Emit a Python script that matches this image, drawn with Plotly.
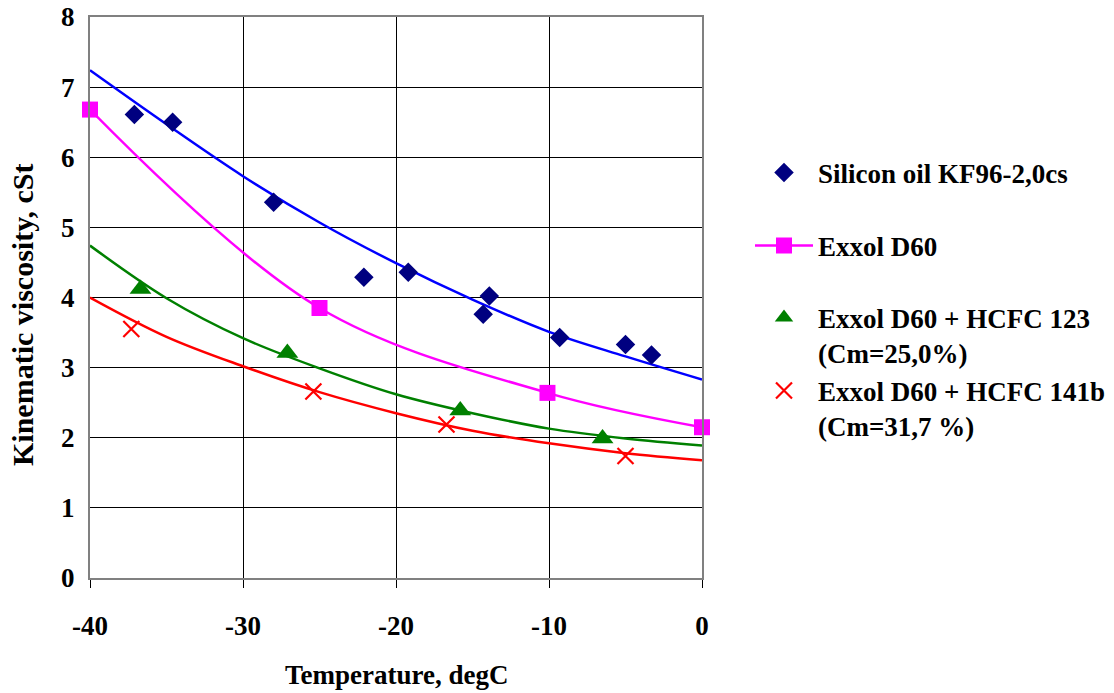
import plotly.graph_objects as go

# Measured viscosity points (temperature in degC, viscosity in cSt)
silicon_t = [-37.1, -34.6, -28.0, -22.1, -19.2, -14.3, -13.9, -9.3, -5.0, -3.3]
silicon_v = [6.61, 6.50, 5.36, 4.29, 4.36, 3.76, 4.02, 3.43, 3.33, 3.18]

d60_t = [-40.0, -25.0, -10.1, 0.0]
d60_v = [6.68, 3.85, 2.64, 2.15]

hcfc123_t = [-36.7, -27.1, -15.8, -6.5]
hcfc123_v = [4.12, 3.21, 2.39, 1.99]

hcfc141b_t = [-37.3, -25.4, -16.7, -5.0]
hcfc141b_v = [3.55, 2.66, 2.19, 1.74]

# Trend curves sampled every 5 degC
trend_t = [-40, -35, -30, -25, -20, -15, -10, -5, 0]
silicon_trend = [7.24, 6.47, 5.73, 5.07, 4.49, 3.97, 3.51, 3.16, 2.83]
hcfc123_trend = [4.74, 3.99, 3.42, 2.99, 2.62, 2.35, 2.13, 1.99, 1.89]
hcfc141b_trend = [4.00, 3.44, 3.02, 2.65, 2.35, 2.10, 1.92, 1.78, 1.68]

x_ticks = [-40, -30, -20, -10, 0]
y_ticks = [0, 1, 2, 3, 4, 5, 6, 7, 8]

FONT = "Liberation Serif"

fig = go.Figure()

# Trend lines
for ys, col in ((silicon_trend, "#0000FF"), (hcfc123_trend, "#008000"), (hcfc141b_trend, "#FF0000")):
    fig.add_trace(go.Scatter(x=trend_t, y=ys, mode="lines",
                             line=dict(color=col, width=2.5, shape="spline", smoothing=1.0),
                             showlegend=False, hoverinfo="skip"))

# Data series
fig.add_trace(go.Scatter(x=silicon_t, y=silicon_v, mode="markers", name="Silicon oil KF96-2,0cs",
                         marker=dict(symbol="diamond", size=15, color="#000080"),
                         cliponaxis=False, legend="legend"))
fig.add_trace(go.Scatter(x=d60_t, y=d60_v, mode="lines+markers", name="Exxol D60",
                         line=dict(color="#FF00FF", width=2.5, shape="spline"),
                         marker=dict(symbol="square", size=16, color="#FF00FF"),
                         cliponaxis=False, legend="legend2"))
fig.add_trace(go.Scatter(x=hcfc123_t, y=hcfc123_v, mode="markers", name="Exxol D60 + HCFC 123<br>(Cm=25,0%)",
                         marker=dict(symbol="triangle-up", size=19, color="#008000"),
                         cliponaxis=False, legend="legend3"))
fig.add_trace(go.Scatter(x=hcfc141b_t, y=hcfc141b_v, mode="markers", name="Exxol D60 + HCFC 141b<br>(Cm=31,7 %)",
                         marker=dict(symbol="x-thin", size=16, line=dict(color="#FF0000", width=2.2)),
                         cliponaxis=False, legend="legend4"))

legend_font = dict(family=FONT, size=27, color="black", weight="bold")
leg_common = dict(font=legend_font, bgcolor="rgba(0,0,0,0)", borderwidth=0,
                  xanchor="left", yanchor="middle", valign="top", x=(750 - 90) / 612,
                  itemwidth=58, itemsizing="trace")

bold_tick = dict(family=FONT, size=27, color="black", weight="bold")

fig.update_layout(
    width=1114, height=693,
    margin=dict(l=90, r=412, t=17, b=115, autoexpand=False),
    paper_bgcolor="white", plot_bgcolor="white",
    font=dict(family=FONT, color="black"),
    legend=dict(leg_common, y=(578 - 173) / 561),
    legend2=dict(leg_common, y=(578 - 246) / 561),
    legend3=dict(leg_common, y=(578 - 335.5) / 561),
    legend4=dict(leg_common, y=(578 - 408.5) / 561),
    xaxis=dict(range=[-40, 0], tickvals=x_ticks, ticktext=[str(v) for v in x_ticks],
               showgrid=True, gridcolor="black", gridwidth=1, zeroline=False,
               showline=True, linecolor="#808080", linewidth=2, mirror=True,
               ticks="outside", ticklen=8, tickcolor="black", ticklabelstandoff=15,
               tickfont=bold_tick),
    yaxis=dict(range=[0, 8], tickvals=y_ticks,
               showgrid=True, gridcolor="black", gridwidth=1, zeroline=False,
               showline=True, linecolor="#808080", linewidth=2, mirror=True,
               ticks="", ticklabelstandoff=8,
               tickfont=bold_tick),
    annotations=[
        dict(text="Temperature, degC", xref="paper", yref="paper", x=0.5, y=(578 - 675) / 561,
             xanchor="center", yanchor="middle", showarrow=False,
             font=dict(family=FONT, size=27, weight="bold")),
        dict(text="Kinematic viscosity, cSt", xref="paper", yref="paper", x=(22 - 90) / 612,
             y=(578 - 315) / 561, xanchor="center", yanchor="middle", textangle=-90, showarrow=False,
             font=dict(family=FONT, size=30, weight="bold")),
    ],
)

fig.write_html("out.html")
